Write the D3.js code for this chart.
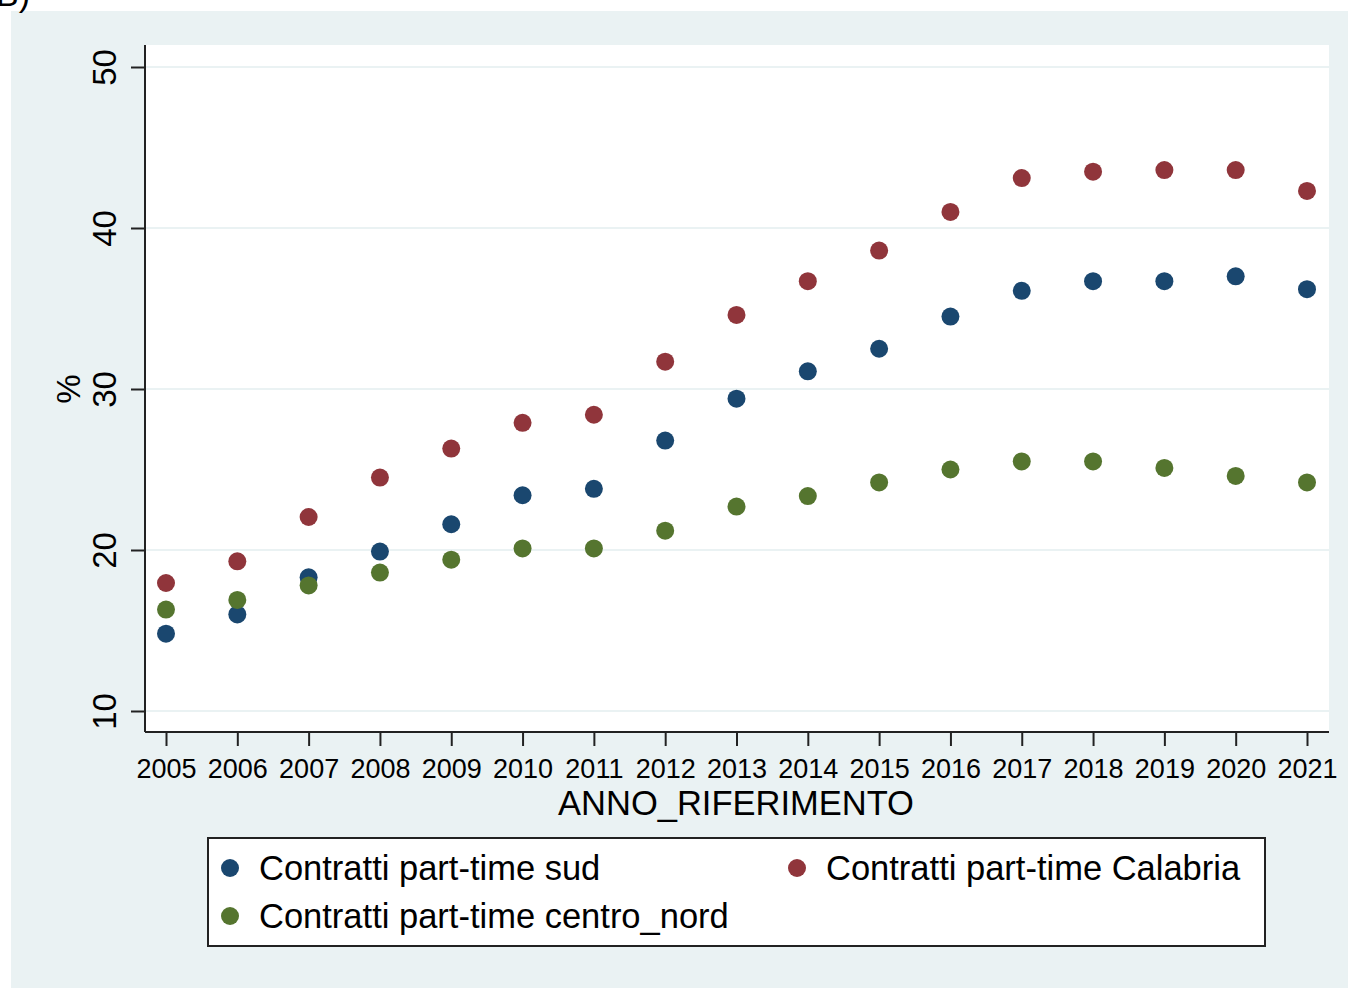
<!DOCTYPE html>
<html>
<head>
<meta charset="utf-8">
<script src="https://cdn.jsdelivr.net/npm/d3@7"></script>
<style>
  body { margin: 0; background: #fff; }
  svg { display: block; font-family: "Liberation Sans", Arial, sans-serif; }
</style>
</head>
<body>
<div class="chart"></div>
<script>
// anni e serie
const anni = [2005, 2006, 2007, 2008, 2009, 2010, 2011, 2012, 2013, 2014, 2015, 2016, 2017, 2018, 2019, 2020, 2021];
const sud = [14.8, 16.0, 18.3, 19.9, 21.6, 23.4, 23.8, 26.8, 29.4, 31.1, 32.5, 34.5, 36.1, 36.7, 36.7, 37.0, 36.2];
const calabria = [17.95, 19.3, 22.05, 24.5, 26.3, 27.9, 28.4, 31.7, 34.6, 36.7, 38.6, 41.0, 43.1, 43.5, 43.6, 43.6, 42.3];
const centroNord = [16.3, 16.9, 17.8, 18.6, 19.4, 20.1, 20.1, 21.2, 22.7, 23.35, 24.2, 25.0, 25.5, 25.5, 25.1, 24.6, 24.2];
const yTicks = [10, 20, 30, 40, 50];

const serie = [
  { nome: "Contratti part-time sud", valori: sud, colore: "#1a476f" },
  { nome: "Contratti part-time Calabria", valori: calabria, colore: "#90353b" },
  { nome: "Contratti part-time centro_nord", valori: centroNord, colore: "#55752f" }
];

const W = 1348, H = 988;
const svg = d3.select(".chart").append("svg").attr("width", W).attr("height", H);

// sfondo esterno
svg.append("rect").attr("x", 11).attr("y", 11).attr("width", W - 11).attr("height", H - 11).attr("fill", "#eaf2f3");
svg.append("text").attr("x", -4).attr("y", 6).attr("font-size", 34).text("B)");

const plot = { left: 145, right: 1329, top: 45, bottom: 732 };
svg.append("rect").attr("x", plot.left).attr("y", plot.top)
  .attr("width", plot.right - plot.left).attr("height", plot.bottom - plot.top).attr("fill", "#fff");

const x = d3.scaleLinear().domain([2005, 2021]).range([166, 1307]);
const y = d3.scaleLinear().domain([10, 50]).range([711, 67]);

// griglia
svg.append("g").selectAll("line").data(yTicks).enter().append("line")
  .attr("x1", plot.left).attr("x2", plot.right)
  .attr("y1", d => y(d)).attr("y2", d => y(d))
  .attr("stroke", "#eaf2f3").attr("stroke-width", 2);

// asse y
const yAxis = svg.append("g").attr("transform", `translate(${plot.left},0)`)
  .call(d3.axisLeft(y).tickValues(yTicks).tickSize(14).tickPadding(0).tickFormat(d3.format("d")));
yAxis.select(".domain").attr("d", `M0,${plot.top}V${plot.bottom}`).attr("stroke", "#222").attr("stroke-width", 2);
yAxis.selectAll(".tick line").attr("stroke", "#222").attr("stroke-width", 2);
yAxis.selectAll(".tick text")
  .attr("font-size", 33).attr("fill", "#000")
  .attr("text-anchor", "middle")
  .attr("transform", "translate(-41,0) rotate(-90)")
  .attr("x", 0).attr("dy", "0.36em");

svg.append("text").attr("transform", `translate(80,${y(30)}) rotate(-90)`)
  .attr("text-anchor", "middle").attr("font-size", 33).text("%");

// asse x
const xAxis = svg.append("g").attr("transform", `translate(0,${plot.bottom})`)
  .call(d3.axisBottom(x).tickValues(anni).tickSize(14).tickPadding(0).tickFormat(d3.format("d")));
xAxis.select(".domain").attr("d", `M${plot.left},0H${plot.right}`).attr("stroke", "#222").attr("stroke-width", 2);
xAxis.selectAll(".tick line").attr("stroke", "#222").attr("stroke-width", 2);
xAxis.selectAll(".tick text").attr("font-size", 27).attr("fill", "#000")
  .attr("dy", null).attr("y", 46);

svg.append("text").attr("x", 736).attr("y", 815).attr("text-anchor", "middle")
  .attr("font-size", 34.5).text("ANNO_RIFERIMENTO");

// punti
serie.forEach(s => {
  svg.append("g").selectAll("circle").data(s.valori).enter().append("circle")
    .attr("cx", (d, i) => x(anni[i])).attr("cy", d => y(d))
    .attr("r", 9).attr("fill", s.colore);
});

// legenda
const leg = svg.append("g");
leg.append("rect").attr("x", 208).attr("y", 838).attr("width", 1057).attr("height", 108)
  .attr("fill", "#fff").attr("stroke", "#222").attr("stroke-width", 2);
const posLeg = [[230, 868], [797, 868], [230, 916]];
serie.forEach((s, i) => {
  const [lx, ly] = posLeg[i];
  leg.append("circle").attr("cx", lx).attr("cy", ly).attr("r", 9).attr("fill", s.colore);
  leg.append("text").attr("x", lx + 29).attr("y", ly).attr("dy", "0.36em")
    .attr("font-size", 34.5).text(s.nome);
});
</script>
</body>
</html>
